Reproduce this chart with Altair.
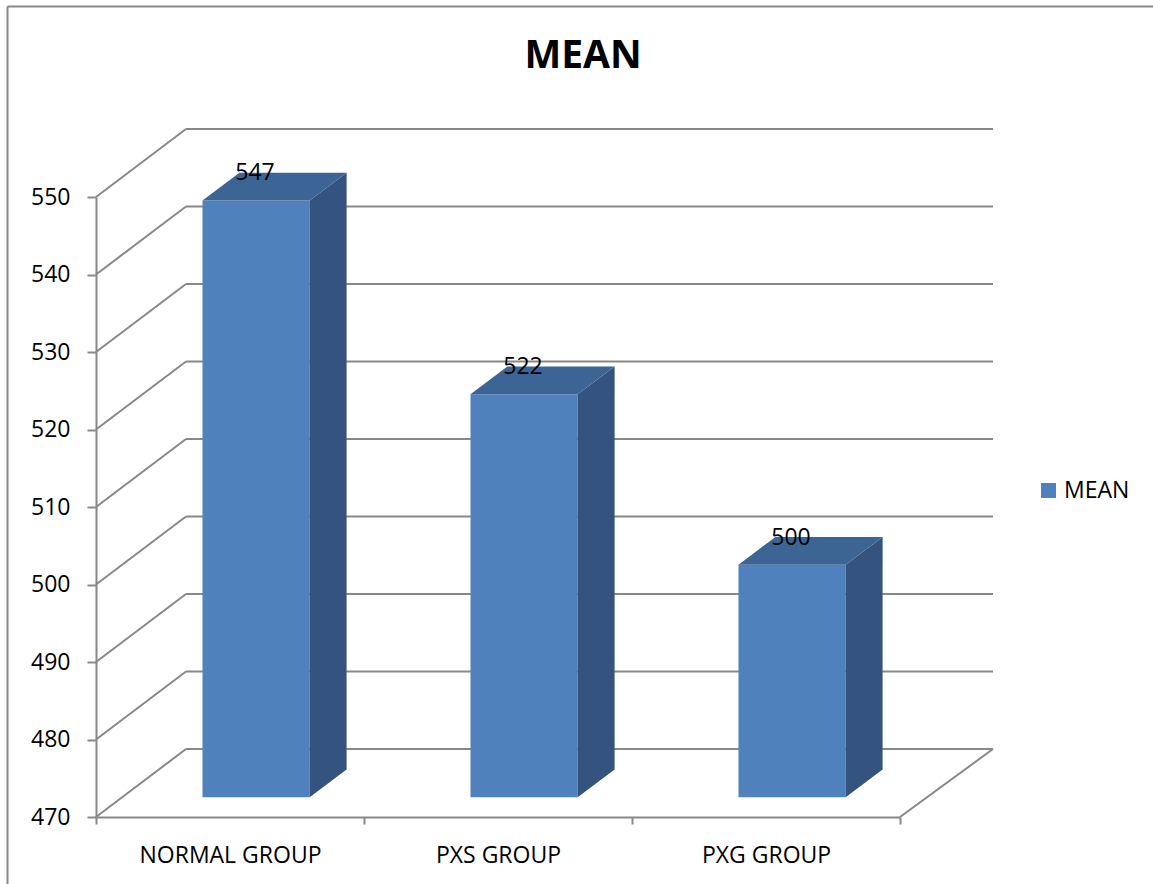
import altair as alt
import pandas as pd

# ---- data ----
categories = ["NORMAL GROUP", "PXS GROUP", "PXG GROUP"]
means = [547, 522, 500]
y_ticks = [470, 480, 490, 500, 510, 520, 530, 540, 550]
series_name = "MEAN"
chart_title = "MEAN"

# ---- layout / style constants ----
W, H = 804, 620
PAD = {"left": 96, "top": 197, "right": 253, "bottom": 67}
Y_MIN, Y_MAX = 470, 550
BACK_DX, BACK_DY = 90, -68          # pixel shift of the back wall (3-D depth)
BAR_F0, BAR_F1 = 0.29, 0.70         # depth fraction of bar front / back faces
BAR_W = 0.4                         # bar width as fraction of a category
FRONT, TOP, SIDE = "#4F81BD", "#3C6494", "#34547F"
GRID = "#888888"
FONT = "Open Sans"
FS = 23

n = len(categories)
px_x = W / n
px_y = H / (Y_MAX - Y_MIN)
du_x = (BAR_F1 - BAR_F0) * BACK_DX / px_x
du_y = -(BAR_F1 - BAR_F0) * BACK_DY / px_y
off_x = BAR_F0 * BACK_DX
off_y = BAR_F0 * BACK_DY

# ---- tables built from the arrays ----
bars = pd.DataFrame({"cat": categories, "mean": means, "series": series_name})
bars["pos"] = [i + 0.5 for i in range(n)]
bars["xl"] = bars["pos"] - BAR_W / 2
bars["xr"] = bars["pos"] + BAR_W / 2
bars["base"] = Y_MIN

side_rows, top_rows = [], []
for _, r in bars.iterrows():
    m = r["mean"]
    side_rows += [
        {"cat": r["cat"], "x": r["xr"], "y": m, "y2": Y_MIN},
        {"cat": r["cat"], "x": r["xr"] + du_x, "y": m + du_y, "y2": Y_MIN + du_y},
    ]
    top_rows += [
        {"cat": r["cat"], "x": r["xl"], "y": m, "y2": m},
        {"cat": r["cat"], "x": r["xl"] + du_x, "y": m, "y2": m + du_y},
        {"cat": r["cat"], "x": r["xr"], "y": m, "y2": m + du_y},
        {"cat": r["cat"], "x": r["xr"] + du_x, "y": m + du_y, "y2": m + du_y},
    ]
side_df = pd.DataFrame(side_rows)
top_df = pd.DataFrame(top_rows)
grid_df = pd.DataFrame({"t": y_ticks, "x0": 0, "x1": n})
floor_df = pd.DataFrame({"t": [Y_MIN], "x1": [n]})

xs = alt.Scale(domain=[0, n], nice=False, zero=False)
ys = alt.Scale(domain=[Y_MIN, Y_MAX], nice=False, zero=False)

label_expr = "''"
for i, c in reversed(list(enumerate(categories))):
    label_expr = f"datum.value == {i + 0.5} ? '{c}' : ({label_expr})"

x_axis = alt.Axis(
    values=[v / 2 for v in range(0, 2 * n + 1)],
    labelExpr=label_expr,
    labelOverlap=False,
    labelFlush=False,
    labelLimit=400,
    title=None,
    grid=False,
    domainColor=GRID, domainWidth=2,
    tickColor=GRID, tickWidth=2, tickSize=7,
    tickOpacity={"condition": {"test": "datum.value % 1 != 0", "value": 0}, "value": 1},
    labelFont=FONT, labelFontSize=FS, labelColor="black", labelPadding=20,
)
y_axis = alt.Axis(
    values=y_ticks,
    title=None,
    grid=False,
    domainColor=GRID, domainWidth=2,
    tickColor=GRID, tickWidth=2, tickSize=9,
    labelFont=FONT, labelFontSize=FS, labelColor="black", labelPadding=17,
)


def X(field):
    return alt.X(field, scale=xs, axis=x_axis)


def Y(field, **kw):
    return alt.Y(field, scale=ys, axis=y_axis, **kw)


back = alt.Chart(grid_df).mark_rule(
    color=GRID, strokeWidth=2, xOffset=BACK_DX, x2Offset=BACK_DX + 3, yOffset=BACK_DY
).encode(x=X("x0:Q"), x2="x1:Q", y=Y("t:Q"))

diag = alt.Chart(grid_df).mark_rule(
    color=GRID, strokeWidth=2, x2Offset=BACK_DX, y2Offset=BACK_DY
).encode(x=X("x0:Q"), x2="x0:Q", y=Y("t:Q"), y2="t:Q")

floor = alt.Chart(floor_df).mark_rule(
    color=GRID, strokeWidth=2, x2Offset=BACK_DX + 3, y2Offset=BACK_DY
).encode(x=X("x1:Q"), x2="x1:Q", y=Y("t:Q"), y2="t:Q")

front = alt.Chart(bars).mark_bar(
    xOffset=off_x, x2Offset=off_x, yOffset=off_y, y2Offset=off_y
).encode(
    x=X("xl:Q"), x2="xr:Q",
    y=Y("mean:Q"), y2="base:Q",
    color=alt.Color(
        "series:N",
        scale=alt.Scale(domain=[series_name], range=[FRONT]),
        legend=alt.Legend(
            orient="none", legendX=941, legendY=282, title=None,
            symbolType="square", symbolSize=225, symbolStrokeWidth=0,
            labelFont=FONT, labelFontSize=FS, labelColor="black",
            labelOffset=4, padding=0,
        ),
    ),
)

side = alt.Chart(side_df).mark_area(
    color=SIDE, xOffset=off_x, yOffset=off_y, y2Offset=off_y
).encode(x=X("x:Q"), y=Y("y:Q", stack=False), y2="y2:Q", detail="cat:N")

top = alt.Chart(top_df).mark_area(
    color=TOP, xOffset=off_x, yOffset=off_y, y2Offset=off_y
).encode(x=X("x:Q"), y=Y("y:Q", stack=False), y2="y2:Q", detail="cat:N")

labels = alt.Chart(bars).mark_text(
    dx=25, dy=-40, baseline="alphabetic", align="center",
    font=FONT, fontSize=FS, color="black"
).encode(x=X("pos:Q"), y=Y("mean:Q"), text="mean:Q")

one = pd.DataFrame({"k": [0]})
frame_left = alt.Chart(one).mark_rule(color=GRID, strokeWidth=2).encode(
    x=alt.value(7.5 - PAD["left"]), y=alt.value(6.5 - PAD["top"]), y2=alt.value(884 - PAD["top"])
)
frame_top = alt.Chart(one).mark_rule(color=GRID, strokeWidth=2).encode(
    x=alt.value(7.5 - PAD["left"]), x2=alt.value(1153 - PAD["left"]), y=alt.value(6.5 - PAD["top"])
)
title = alt.Chart(one).mark_text(
    text=chart_title, font=FONT, fontSize=39, fontWeight="bold", color="black",
    align="center", baseline="alphabetic",
).encode(x=alt.value(583 - PAD["left"]), y=alt.value(68 - PAD["top"]))

chart = alt.layer(
    back, diag, floor, front, side, top, labels, frame_left, frame_top, title
).properties(
    width=W, height=H,
    autosize=alt.AutoSizeParams(type="none"),
    padding=PAD,
).configure_view(strokeWidth=0)

chart.save("out.html", embed_options={"renderer": "svg", "actions": False})
